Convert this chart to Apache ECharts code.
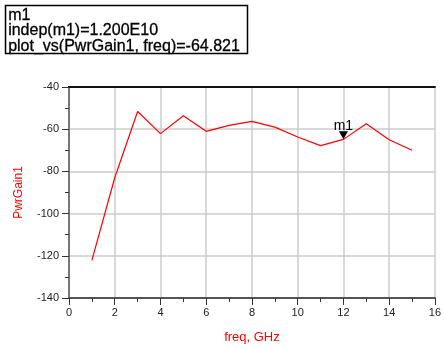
<!DOCTYPE html>
<html>
<head>
<meta charset="utf-8">
<script src="https://cdn.jsdelivr.net/npm/echarts@6/dist/echarts.min.js"></script>
<style>
  html, body { margin: 0; padding: 0; background: #fff; }
  #chart { width: 444px; height: 349px; }
</style>
</head>
<body>
<div id="chart"></div>
<script>
  // freq in GHz, PwrGain1 in dB
  var freqs = [1, 2, 3, 4, 5, 6, 7, 8, 9, 10, 11, 12, 13, 14, 15];
  var gains = [-122.2, -83.0, -51.6, -62.1, -53.6, -61.0, -58.2, -56.3, -59.0, -63.7, -67.8, -64.821, -57.4, -65.0, -70.0];
  var markerFreq = 12;
  var markerGain = -64.821;
  var markerLines = ['m1', 'indep(m1)=1.200E10', 'plot_vs(PwrGain1, freq)=-64.821'];

  var points = [];
  for (var i = 0; i < freqs.length; i++) {
    points.push([freqs[i], gains[i]]);
  }

  var chart = echarts.init(document.getElementById('chart'));

  var option = {
    animation: false,
    grid: {
      show: true,
      left: 69,
      top: 87,
      right: 5,
      bottom: 51,
      borderWidth: 0
    },
    graphic: [
      {
        type: 'rect',
        shape: { x: 5.5, y: 5.5, width: 242, height: 48 },
        style: { fill: '#fff', stroke: '#000', lineWidth: 1.5 }
      },
      {
        type: 'text',
        left: 8,
        top: 7,
        style: {
          text: markerLines.join('\n'),
          font: '16px "Liberation Sans", Arial, sans-serif',
          lineHeight: 15.5,
          fill: '#000',
          stroke: '#000',
          lineWidth: 0.3
        }
      }
    ],
    xAxis: [
      {
        type: 'value',
        min: 0,
        max: 16,
        interval: 2,
        name: 'freq, GHz',
        nameLocation: 'middle',
        nameGap: 33,
        nameTextStyle: { color: '#ff0000', fontSize: 13, fontFamily: '"Liberation Sans", Arial' },
        axisLine: { show: true, onZero: false, lineStyle: { color: '#555', width: 2 } },
        axisTick: { show: true, length: 7, lineStyle: { color: '#333' } },
        minorTick: { show: true, splitNumber: 2, length: 4, lineStyle: { color: '#333' } },
        axisLabel: { color: '#222', fontSize: 11, fontFamily: '"Liberation Sans", Arial', margin: 9 },
        splitLine: { show: true, lineStyle: { color: '#cccccc', width: 1.5 } }
      },
      {
        type: 'value',
        position: 'top',
        min: 0,
        max: 16,
        axisLine: { show: true, lineStyle: { color: '#111', width: 2 } },
        axisTick: { show: false },
        axisLabel: { show: false },
        splitLine: { show: false }
      }
    ],
    yAxis: [
      {
        type: 'value',
        min: -140,
        max: -40,
        interval: 20,
        name: 'PwrGain1',
        nameLocation: 'middle',
        nameGap: 44,
        nameTextStyle: { color: '#ff0000', fontSize: 12, fontFamily: '"Liberation Sans", Arial' },
        axisLine: { show: true, onZero: false, lineStyle: { color: '#111', width: 2 } },
        axisTick: { show: true, length: 7, lineStyle: { color: '#333' } },
        minorTick: { show: true, splitNumber: 2, length: 4, lineStyle: { color: '#333' } },
        axisLabel: { color: '#222', fontSize: 11, fontFamily: '"Liberation Sans", Arial', margin: 10 },
        splitLine: { show: true, lineStyle: { color: '#cccccc', width: 1.5 } }
      },
      {
        type: 'value',
        position: 'right',
        min: -140,
        max: -40,
        axisLine: { show: true, lineStyle: { color: '#777', width: 2 } },
        axisTick: { show: false },
        axisLabel: { show: false },
        splitLine: { show: false }
      }
    ],
    series: [
      {
        name: 'PwrGain1',
        type: 'line',
        data: points,
        showSymbol: false,
        symbol: 'none',
        lineStyle: { color: '#ff0000', width: 1.2 },
        markPoint: {
          symbol: 'triangle',
          symbolRotate: 180,
          symbolSize: [9, 8],
          symbolOffset: [0, -4],
          itemStyle: { color: '#000' },
          label: {
            show: true,
            position: 'top',
            distance: -2,
            formatter: 'm1',
            color: '#000',
            fontSize: 14,
            fontFamily: '"Liberation Sans", Arial'
          },
          data: [{ coord: [markerFreq, markerGain] }]
        }
      }
    ]
  };

  chart.setOption(option);
</script>
</body>
</html>
